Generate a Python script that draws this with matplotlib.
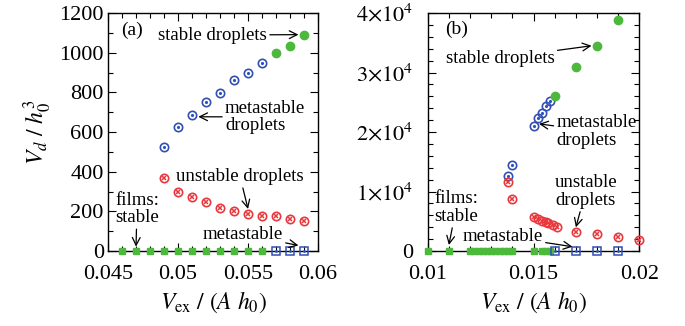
import numpy as np
import matplotlib
matplotlib.use("Agg")
import matplotlib.pyplot as plt
from matplotlib.ticker import MultipleLocator

plt.rcParams['font.family'] = ['Liberation Serif', 'DejaVu Serif']
plt.rcParams['mathtext.fontset'] = 'stix'

GREEN = '#4cb83c'
BLUE = '#3050b4'
RED = '#e8383d'

# ---- panel (a) data ----
a_film_stable_x = [0.046, 0.047, 0.048, 0.049, 0.050, 0.051, 0.052, 0.053, 0.054, 0.055, 0.056]
a_film_meta_x = [0.057, 0.058, 0.059]
a_meta_drop_x = [0.049, 0.050, 0.051, 0.052, 0.053, 0.054, 0.055, 0.056]
a_meta_drop_y = [523, 627, 687, 750, 797, 862, 896, 948]
a_stab_drop_x = [0.057, 0.058, 0.059]
a_stab_drop_y = [1000, 1035, 1091]
a_unst_drop_x = [0.049, 0.050, 0.051, 0.052, 0.053, 0.054, 0.055, 0.056, 0.057, 0.058, 0.059]
a_unst_drop_y = [367, 296, 271, 245, 215, 203, 188, 175, 176, 163, 150]

# ---- panel (b) data ----
b_film_stable_x = [0.010, 0.011, 0.0120, 0.0122, 0.0124, 0.0126, 0.0128, 0.0130, 0.0132,
                   0.0134, 0.0136, 0.0138, 0.0140, 0.0150, 0.0154, 0.0156, 0.0158]
b_film_meta_x = [0.016, 0.017, 0.018, 0.019]
b_meta_drop_x = [0.0138, 0.0140, 0.0150, 0.0152, 0.0154, 0.0156, 0.0158]
b_meta_drop_y = [12620, 14470, 21035, 22330, 23170, 24400, 25290]
b_stab_drop_x = [0.016, 0.017, 0.018, 0.019]
b_stab_drop_y = [26130, 30900, 34500, 38750]
b_unst_drop_x = [0.0138, 0.0140, 0.0150, 0.0152, 0.0154, 0.0156, 0.0157, 0.0159, 0.0161,
                 0.017, 0.018, 0.019, 0.020]
b_unst_drop_y = [11660, 8800, 5670, 5330, 5050, 4830, 4660, 4380, 4090,
                 3250, 2810, 2410, 1900]


def draw_points(ax, fx, fmx, mx, my, sx, sy, ux, uy):
    kw = dict(linestyle='none', clip_on=False, zorder=3)
    ax.plot(fx, np.zeros(len(fx)), marker='s', ms=5, color=GREEN, mec=GREEN, **kw)
    ax.plot(fmx, np.zeros(len(fmx)), marker='s', ms=5.5, mfc='none', mec=BLUE, mew=1.1, **kw)
    ax.plot(fmx, np.zeros(len(fmx)), marker='.', ms=2, color=BLUE, **kw)
    ax.plot(mx, my, marker='o', ms=6, mfc='none', mec=BLUE, mew=1.2, **kw)
    ax.plot(mx, my, marker='.', ms=2.5, color=BLUE, **kw)
    ax.plot(sx, sy, marker='o', ms=6, color=GREEN, **kw)
    ax.plot(ux, uy, marker='o', ms=6, mfc='none', mec=RED, mew=1.2, **kw)
    ax.plot(ux, uy, marker='x', ms=3.5, color=RED, mew=1.1, **kw)


def style_axes(ax):
    for s in ax.spines.values():
        s.set_linewidth(1.0)
    ax.tick_params(which='both', direction='in', top=True, right=True,
                   labelsize=16, width=0.8)
    ax.tick_params(which='major', length=6)
    ax.tick_params(which='minor', length=3.5)
    ax.tick_params(axis='x', pad=10)


def note(ax, text, xy, xytext, ha='left', va='center'):
    ax.annotate(text, xy=xy, xytext=xytext, ha=ha, va=va, fontsize=13.5,
                linespacing=1.05,
                arrowprops=dict(arrowstyle='->', color='black', lw=0.9,
                                shrinkA=0, shrinkB=0, mutation_scale=14))


fig = plt.figure(figsize=(6.85, 3.26), dpi=100)
ax1 = fig.add_axes([0.1577, 0.230, 0.3066, 0.730])
ax2 = fig.add_axes([0.6244, 0.230, 0.3090, 0.730])

# panel (a)
draw_points(ax1, a_film_stable_x, a_film_meta_x, a_meta_drop_x, a_meta_drop_y,
            a_stab_drop_x, a_stab_drop_y, a_unst_drop_x, a_unst_drop_y)
ax1.set_xlim(0.045, 0.06)
ax1.set_ylim(0, 1200)
ax1.set_xticks([0.045, 0.05, 0.055, 0.06])
ax1.set_xticklabels(['0.045', '0.05', '0.055', '0.06'])
ax1.xaxis.set_minor_locator(MultipleLocator(0.001))
ax1.yaxis.set_major_locator(MultipleLocator(200))
ax1.yaxis.set_minor_locator(MultipleLocator(100))
style_axes(ax1)
ax1.tick_params(axis='y', pad=3)
ax1.set_ylabel(r'$V_d\ /\ h_0^3$', fontsize=17, labelpad=4)
ax1.set_xlabel(r'$V_{\rm ex}\ /\ (A\ h_0)$', fontsize=17, labelpad=4)
ax1.text(0.0459, 1114, '(a)', fontsize=14, ha='left', va='center')
note(ax1, 'stable droplets', (0.0586, 1091), (0.05636, 1089), ha='right')
note(ax1, 'metastable\ndroplets', (0.05145, 677), (0.05335, 676))
note(ax1, 'unstable droplets', (0.055, 212), (0.05443, 375), ha='center')
note(ax1, 'films:\nstable', (0.047, 22), (0.0455, 212))
note(ax1, 'metastable', (0.0586, 28), (0.05176, 84))

# panel (b)
draw_points(ax2, b_film_stable_x, b_film_meta_x, b_meta_drop_x, b_meta_drop_y,
            b_stab_drop_x, b_stab_drop_y, b_unst_drop_x, b_unst_drop_y)
ax2.set_xlim(0.01, 0.02)
ax2.set_ylim(0, 40000)
ax2.set_xticks([0.01, 0.015, 0.02])
ax2.set_xticklabels(['0.01', '0.015', '0.02'])
ax2.xaxis.set_minor_locator(MultipleLocator(0.001))
ax2.set_yticks([0, 10000, 20000, 30000, 40000])
ax2.set_yticklabels(['0', r'$1{\times}10^4$', r'$2{\times}10^4$',
                     r'$3{\times}10^4$', r'$4{\times}10^4$'])
ax2.yaxis.set_minor_locator(MultipleLocator(2000))
style_axes(ax2)
ax2.tick_params(axis='y', pad=10.5)
ax2.set_xlabel(r'$V_{\rm ex}\ /\ (A\ h_0)$', fontsize=17, labelpad=4)
ax2.text(0.01082, 37190, '(b)', fontsize=14, ha='left', va='center')
note(ax2, 'stable droplets', (0.01774, 34500), (0.01600, 32430), ha='right')
note(ax2, 'metastable\ndroplets', (0.01526, 21370), (0.01608, 20080))
note(ax2, 'unstable\ndroplets', (0.0170, 3990), (0.01746, 9980), ha='center')
note(ax2, 'films:\nstable', (0.011, 1010), (0.01031, 7270))
note(ax2, 'metastable', (0.01684, 720), (0.01165, 2524))

fig.savefig('out.png', dpi=100)
